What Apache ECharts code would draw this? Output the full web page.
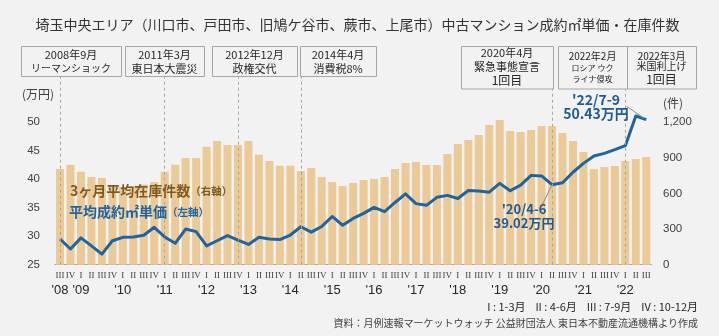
<!DOCTYPE html>
<html><head><meta charset="utf-8">
<script src="https://cdn.jsdelivr.net/npm/echarts@6/dist/echarts.min.js"></script>
<style>html,body{margin:0;padding:0;background:#f2f2f2}#c{width:719px;height:336px}</style>
</head><body><div id="c"></div>
<script>
// ---- data ----
const categories = [
  '2008Q3','2008Q4',
  '2009Q1','2009Q2','2009Q3','2009Q4',
  '2010Q1','2010Q2','2010Q3','2010Q4',
  '2011Q1','2011Q2','2011Q3','2011Q4',
  '2012Q1','2012Q2','2012Q3','2012Q4',
  '2013Q1','2013Q2','2013Q3','2013Q4',
  '2014Q1','2014Q2','2014Q3','2014Q4',
  '2015Q1','2015Q2','2015Q3','2015Q4',
  '2016Q1','2016Q2','2016Q3','2016Q4',
  '2017Q1','2017Q2','2017Q3','2017Q4',
  '2018Q1','2018Q2','2018Q3','2018Q4',
  '2019Q1','2019Q2','2019Q3','2019Q4',
  '2020Q1','2020Q2','2020Q3','2020Q4',
  '2021Q1','2021Q2','2021Q3','2021Q4',
  '2022Q1','2022Q2','2022Q3'
];
const inventory = [806,843,784,740,731,668,655,662,675,697,784,843,899,899,994,1042,1009,1009,1042,926,874,834,834,790,815,739,697,663,689,714,722,739,806,857,866,840,840,933,1017,1051,1093,1177,1219,1127,1118,1135,1169,1169,1110,1042,950,806,823,832,874,891,908];
const unitPrice = [29.5,27.75,29.7,28.3,26.85,29.2,29.8,29.85,30.15,31.55,29.85,28.75,31.25,30.8,28.3,29.2,30.1,29.3,28.55,29.8,29.5,29.4,30.2,31.65,30.7,31.7,33.45,31.9,33.1,34.0,35.05,34.3,35.9,37.4,35.7,35.4,36.8,37.15,36.6,38.0,37.9,37.7,39.25,37.95,38.95,40.65,40.55,39.02,39.35,41.2,42.75,44.05,44.5,45.15,45.85,51.05,50.43];
const quarterRoman = {Q1:'I', Q2:'II', Q3:'III', Q4:'IV'};
const leftTickMax = 50;
const rightTickMax = 1200;
const eventCategories = ['2008Q3','2011Q1','2012Q4','2014Q2','2020Q2','2022Q1'];
const eventBoxes = [
  ['2008年9月','リーマンショック'],
  ['2011年3月','東日本大震災'],
  ['2012年12月','政権交代'],
  ['2014年4月','消費税8%'],
  ['2020年4月','緊急事態宣言','1回目'],
  ['2022年2月','ロシア ウク','ライナ侵攻'],
  ['2022年3月','米国利上げ','1回目']
];
const titleText = '埼玉中央エリア（川口市、戸田市、旧鳩ケ谷市、蕨市、上尾市）中古マンション成約㎡単価・在庫件数';
const sourceText = '資料：月例速報マーケットウォッチ 公益財団法人 東日本不動産流通機構より作成';
const quarterNote = 'I : 1-3月    II : 4-6月    III : 7-9月    IV : 10-12月';

// ---- chart ----
const JP = "'Noto Sans CJK JP', sans-serif";
const NUM = "'Liberation Sans', 'Noto Sans CJK JP', sans-serif";
const chart = echarts.init(document.getElementById('c'), null, {renderer: 'canvas'});
const lineTops = [58.06, 58.06, 58.06, 58.06, 55.83, 55.83];
const markData = eventCategories.map((c, i) => [{coord: [c, 25]}, {coord: [c, lineTops[i]]}]);

chart.setOption({
  backgroundColor: '#f2f2f2',
  animation: false,
  grid: {left: 54.8, right: 67.5, top: 76, bottom: 71.3},
  xAxis: [
    {type: 'category', data: categories, position: 'bottom',
     axisLine: {lineStyle: {color: '#a6a6a6', width: 1}}, axisTick: {show: false},
     axisLabel: {interval: 0, margin: 6, fontSize: 9, fontFamily: "'Liberation Serif', serif", color: '#404040',
       formatter: v => quarterRoman[v.slice(4)]}},
    {type: 'category', data: categories, position: 'bottom', offset: 0,
     axisLine: {show: false}, axisTick: {show: false},
     axisLabel: {interval: 0, margin: 19, fontSize: 13, fontFamily: NUM, color: '#262626',
       formatter: (v, i) => (i === 0 || v.endsWith('Q1')) ? "'" + v.slice(2, 4) : ''}}
  ],
  yAxis: [
    {type: 'value', min: 25, max: 58.06, interval: 5, splitLine: {show: false},
     axisLine: {show: false}, axisTick: {show: false},
     axisLabel: {margin: 14.8, fontSize: 11.5, fontFamily: NUM, color: '#404040',
       formatter: v => v <= leftTickMax ? String(v) : ''}},
    {type: 'value', min: 0, max: 1590, interval: 300, position: 'right', splitLine: {show: false},
     axisLine: {show: false}, axisTick: {show: false},
     axisLabel: {margin: 11.5, fontSize: 11.5, fontFamily: NUM, color: '#404040',
       formatter: v => v <= rightTickMax ? Number(v).toLocaleString('en-US') : ''}}
  ],
  series: [
    {type: 'bar', data: inventory, xAxisIndex: 0, yAxisIndex: 1, barWidth: 8,
     itemStyle: {color: '#ECCA97'}, silent: true},
    {type: 'line', data: unitPrice, xAxisIndex: 0, yAxisIndex: 0, symbol: 'none', z: 3,
     lineStyle: {color: '#1F64A0', width: 3, join: 'round'},
     markLine: {silent: true, symbol: ['none', 'none'], label: {show: false},
       lineStyle: {type: [3, 3], color: '#a6a6a6', width: 1}, data: markData}}
  ]
});

// ---- annotations ----
function txt(x, y, text, size, opts) {
  opts = opts || {};
  return {type: 'text', x: x, y: y, z: 100, silent: true,
    style: Object.assign({text: text, fontSize: size, fontFamily: opts.family || JP,
      fontWeight: opts.weight || 'normal', fill: opts.fill || '#262626',
      align: opts.align || 'center', verticalAlign: 'middle',
      textAlign: opts.align || 'center', textVerticalAlign: 'middle'}, opts.extra || {})};
}
const boxGeom = [
  [21, 46, 100, 30], [125, 46, 79, 30], [212, 46, 85, 30], [300, 46, 76, 30],
  [461, 46, 92, 42.5], [558, 46, 69, 42.5], [627, 46, 69, 42.5]
];
const boxLineY = [
  [54.7, 68.7], [54.7, 68.7], [54.7, 68.7], [54.7, 68.7],
  [53, 66.5, 80.5], [56.3, 68.3, 78.7], [56, 66.5, 79.7]
];
const boxLineSize = [
  [11, 10], [11, 11], [11, 11], [11, 11],
  [11, 11, 12], [10, 8, 8], [10, 10, 12]
];
const g = [];
g.push(txt(357.5, 25, titleText, 14, {fill: '#333333'}));
eventBoxes.forEach((lines, i) => {
  const b = boxGeom[i];
  g.push({type: 'rect', z: 99, silent: true, shape: {x: b[0] + 0.5, y: b[1] + 0.5, width: b[2], height: b[3]},
    style: {fill: '#f2f2f2', stroke: '#a6a6a6', lineWidth: 1}});
  lines.forEach((t, j) => g.push(txt(b[0] + b[2] / 2, boxLineY[i][j], t, boxLineSize[i][j])));
});
g.push(txt(22, 94.7, '(万円)', 12, {align: 'left', fill: '#404040'}));
g.push(txt(663, 103.7, '(件)', 12, {align: 'left', fill: '#404040'}));
g.push({type: 'text', x: 70, y: 190.7, z: 100, silent: true, style: {
  text: '{a|3ヶ月平均在庫件数}{b|（右軸）}', align: 'left', verticalAlign: 'middle',
  textAlign: 'left', textVerticalAlign: 'middle',
  rich: {a: {fontSize: 14, fontWeight: 'bold', fontFamily: JP, fill: '#7F5A1E', lineHeight: 18, verticalAlign: 'middle'},
         b: {fontSize: 10.5, fontWeight: 'bold', fontFamily: JP, fill: '#7F5A1E', lineHeight: 18, verticalAlign: 'middle'}}}});
g.push({type: 'text', x: 69, y: 211.7, z: 100, silent: true, style: {
  text: '{a|平均成約㎡単価}{b|（左軸）}', align: 'left', verticalAlign: 'middle',
  textAlign: 'left', textVerticalAlign: 'middle',
  rich: {a: {fontSize: 14, fontWeight: 'bold', fontFamily: JP, fill: '#1F64A0', lineHeight: 18, verticalAlign: 'middle'},
         b: {fontSize: 10.5, fontWeight: 'bold', fontFamily: JP, fill: '#1F64A0', lineHeight: 18, verticalAlign: 'middle'}}}});
// annotation labels
g.push(txt(524, 209.3, "'20/4-6", 13, {weight: 'bold', fill: '#1F5A94'}));
g.push(txt(524, 222.7, '39.02万円', 13, {weight: 'bold', fill: '#1F5A94'}));
g.push(txt(596, 99.7, "'22/7-9", 14, {weight: 'bold', fill: '#1F5A94'}));
g.push(txt(596, 114, '50.43万円', 14, {weight: 'bold', fill: '#1F5A94'}));
const p20 = chart.convertToPixel({xAxisIndex: 0, yAxisIndex: 0}, ['2020Q2', unitPrice[47]]);
const p22 = chart.convertToPixel({xAxisIndex: 0, yAxisIndex: 0}, ['2022Q3', unitPrice[56]]);
g.push({type: 'line', z: 98, silent: true, shape: {x1: 542.7, y1: 204, x2: p20[0], y2: p20[1]},
  style: {stroke: '#8c8c8c', lineWidth: 1}});
g.push({type: 'line', z: 98, silent: true, shape: {x1: 626.7, y1: 106.3, x2: p22[0] - 2, y2: p22[1] - 1},
  style: {stroke: '#8c8c8c', lineWidth: 1}});
g.push(txt(698, 307.3, quarterNote, 11, {align: 'right', fill: '#262626'}));
g.push(txt(698, 323.3, sourceText, 10, {align: 'right', fill: '#404040'}));
chart.setOption({graphic: g});
</script>
</body></html>
